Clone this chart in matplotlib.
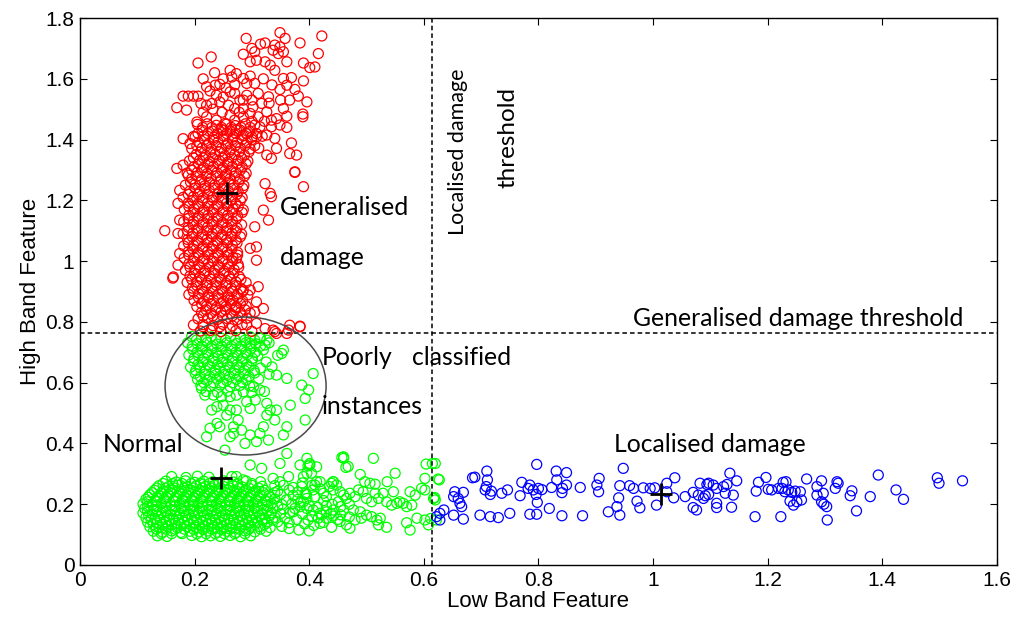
import matplotlib
matplotlib.use("Agg")
import matplotlib.pyplot as plt
from matplotlib.patches import Ellipse

# ---------------- data ----------------
red_points = [
    # sparse upper part
    (0.290,1.733),(0.349,1.752),(0.358,1.733),(0.422,1.741),(0.384,1.718),(0.416,1.683),
    (0.206,1.652),(0.229,1.672),(0.390,1.652),(0.401,1.637),(0.410,1.639),(0.323,1.718),
    (0.315,1.714),(0.300,1.700),(0.305,1.689),(0.285,1.681),(0.340,1.711),(0.349,1.705),
    (0.355,1.689),(0.346,1.683),(0.337,1.694),(0.297,1.656),(0.308,1.661),(0.323,1.656),
    (0.332,1.645),(0.340,1.628),(0.361,1.656),(0.262,1.628),(0.273,1.617),(0.285,1.601),
    (0.297,1.609),(0.305,1.585),(0.291,1.585),(0.265,1.606),
    (0.355,1.601),(0.369,1.604),(0.361,1.579),(0.390,1.593),(0.349,1.565),(0.375,1.565),
    (0.381,1.543),(0.396,1.524),(0.366,1.530),(0.355,1.502),(0.361,1.477),(0.389,1.484),
    (0.389,1.475),(0.349,1.448),(0.361,1.440),(0.343,1.469),(0.334,1.442),
    (0.221,1.574),(0.236,1.579),(0.244,1.582),(0.227,1.560),(0.238,1.546),
    (0.180,1.543),(0.189,1.543),(0.198,1.543),(0.206,1.543),(0.169,1.505),(0.186,1.497),
    (0.211,1.519),(0.221,1.513),(0.230,1.519),(0.244,1.524),
    (0.262,1.557),(0.270,1.552),(0.279,1.530),(0.291,1.546),(0.311,1.552),(0.329,1.541),
    (0.317,1.519),(0.302,1.508),(0.285,1.502),(0.270,1.502),(0.259,1.513),(0.297,1.486),
    (0.311,1.475),(0.326,1.491),(0.334,1.464),(0.314,1.442),
    (0.204,1.458),(0.221,1.475),(0.238,1.464),(0.253,1.453),(0.270,1.464),(0.285,1.475),
    (0.250,1.431),(0.273,1.431),(0.291,1.420),(0.308,1.409),(0.326,1.415),(0.340,1.404),
    (0.369,1.389),(0.366,1.354),(0.378,1.349),(0.334,1.338),(0.326,1.349),(0.343,1.371),
    (0.180,1.403),(0.192,1.387),(0.201,1.409),(0.169,1.305),(0.180,1.316),(0.189,1.283),
    (0.375,1.292),
    (0.215,1.490),(0.232,1.500),(0.248,1.490),(0.262,1.480),(0.278,1.490),(0.300,1.460),
    (0.322,1.460),(0.250,1.540),(0.285,1.530),(0.300,1.530),(0.215,1.600),(0.235,1.620),
    (0.250,1.600),(0.320,1.600),(0.335,1.580),(0.330,1.520),(0.350,1.530),(0.270,1.580),
    (0.255,1.570),
    # right / left outliers of the column
    (0.323,1.255),(0.332,1.223),(0.334,1.212),(0.320,1.168),(0.329,1.135),(0.305,1.113),
    (0.297,1.042),(0.308,1.047),(0.308,1.003),(0.273,1.009),(0.311,0.916),(0.285,0.905),
    (0.297,0.905),(0.308,0.866),(0.320,0.844),(0.305,0.833),(0.273,0.850),(0.262,0.872),
    (0.337,0.773),(0.366,0.789),(0.384,0.786),(0.361,0.762),(0.343,0.762),(0.390,1.245),
    (0.375,1.294),(0.163,0.948),(0.171,0.987),(0.174,1.025),(0.171,1.091),(0.174,1.135),
    (0.171,1.190),(0.174,1.233),(0.148,1.100),(0.162,0.944),
    # near the threshold line
    (0.198,0.790),(0.215,0.784),(0.230,0.778),(0.244,0.784),(0.262,0.778),(0.291,0.790),
    (0.308,0.795),(0.323,0.778),(0.340,0.768),(0.364,0.773),(0.384,0.784),
    # dense column
    (0.205,1.450),(0.222,1.452),(0.238,1.447),(0.256,1.451),(0.271,1.446),(0.289,1.452),(0.305,1.448),
    (0.213,1.431),(0.231,1.428),(0.247,1.433),(0.262,1.429),(0.279,1.432),(0.296,1.427),
    (0.198,1.410),(0.216,1.412),(0.234,1.407),(0.251,1.411),(0.268,1.409),(0.284,1.413),(0.300,1.408),(0.318,1.411),
    (0.207,1.391),(0.225,1.388),(0.241,1.392),(0.258,1.387),(0.274,1.391),(0.291,1.389),
    (0.195,1.370),(0.213,1.372),(0.229,1.368),(0.247,1.371),(0.263,1.367),(0.280,1.372),(0.297,1.369),(0.312,1.372),
    (0.203,1.351),(0.219,1.348),(0.236,1.352),(0.253,1.347),(0.270,1.351),(0.287,1.349),
    (0.191,1.330),(0.209,1.332),(0.226,1.328),(0.243,1.331),(0.259,1.327),(0.276,1.332),(0.293,1.329),
    (0.199,1.311),(0.216,1.308),(0.233,1.312),(0.250,1.307),(0.266,1.311),(0.283,1.309),
    (0.187,1.290),(0.205,1.292),(0.222,1.288),(0.239,1.291),(0.256,1.287),(0.272,1.292),(0.290,1.289),
    (0.195,1.271),(0.212,1.268),(0.229,1.272),(0.246,1.267),(0.262,1.271),(0.279,1.269),
    (0.184,1.250),(0.201,1.252),(0.218,1.248),(0.235,1.251),(0.252,1.247),(0.268,1.252),(0.286,1.249),
    (0.192,1.231),(0.209,1.228),(0.226,1.232),(0.243,1.227),(0.259,1.231),(0.276,1.229),
    (0.180,1.210),(0.198,1.212),(0.215,1.208),(0.232,1.211),(0.249,1.207),(0.265,1.212),(0.283,1.209),
    (0.189,1.191),(0.206,1.188),(0.223,1.192),(0.240,1.187),(0.256,1.191),(0.272,1.189),
    (0.182,1.170),(0.199,1.172),(0.216,1.168),(0.233,1.171),(0.250,1.167),(0.267,1.172),(0.285,1.169),
    (0.190,1.151),(0.207,1.148),(0.224,1.152),(0.241,1.147),(0.258,1.151),(0.275,1.149),
    (0.181,1.130),(0.198,1.132),(0.215,1.128),(0.232,1.131),(0.249,1.127),(0.266,1.132),
    (0.189,1.111),(0.206,1.108),(0.223,1.112),(0.240,1.107),(0.257,1.111),(0.274,1.109),
    (0.180,1.090),(0.197,1.092),(0.214,1.088),(0.231,1.091),(0.248,1.087),(0.265,1.092),(0.282,1.089),
    (0.188,1.071),(0.205,1.068),(0.222,1.072),(0.239,1.067),(0.256,1.071),(0.272,1.069),
    (0.181,1.050),(0.198,1.052),(0.215,1.048),(0.232,1.051),(0.249,1.047),(0.266,1.052),
    (0.189,1.031),(0.206,1.028),(0.223,1.032),(0.240,1.027),(0.257,1.031),(0.275,1.029),
    (0.182,1.010),(0.199,1.012),(0.216,1.008),(0.233,1.011),(0.250,1.007),(0.267,1.012),
    (0.190,0.991),(0.207,0.988),(0.224,0.992),(0.241,0.987),(0.258,0.991),(0.276,0.989),
    (0.184,0.970),(0.201,0.972),(0.218,0.968),(0.235,0.971),(0.252,0.967),(0.269,0.972),
    (0.192,0.951),(0.209,0.948),(0.226,0.952),(0.243,0.947),(0.260,0.951),(0.278,0.949),
    (0.187,0.930),(0.204,0.932),(0.221,0.928),(0.238,0.931),(0.255,0.927),(0.272,0.932),(0.290,0.929),
    (0.196,0.911),(0.213,0.908),(0.230,0.912),(0.247,0.907),(0.264,0.911),(0.281,0.909),
    (0.190,0.890),(0.207,0.892),(0.224,0.888),(0.241,0.891),(0.258,0.887),(0.275,0.892),(0.293,0.889),
    (0.199,0.871),(0.216,0.868),(0.233,0.872),(0.250,0.867),(0.267,0.871),(0.284,0.869),
    (0.204,0.850),(0.221,0.852),(0.238,0.848),(0.255,0.851),(0.272,0.847),(0.290,0.852),
    (0.212,0.831),(0.229,0.828),(0.246,0.832),(0.263,0.827),(0.280,0.831),(0.297,0.829),
    (0.206,0.810),(0.223,0.812),(0.240,0.808),(0.257,0.811),(0.274,0.807),(0.291,0.812),
    (0.215,0.791),(0.232,0.788),(0.249,0.792),(0.266,0.787),(0.283,0.791),
    (0.210,0.770),(0.228,0.772),(0.246,0.768),(0.272,0.771),(0.300,0.769),
]

# extra rows inside the densest part of the red column: (y, [x values])
red_fill_rows = [
    (1.44, [0.214,0.230,0.247,0.264,0.281,0.297]),
    (1.42, [0.206,0.223,0.240,0.256,0.272,0.290,0.308]),
    (1.40, [0.217,0.233,0.250,0.266,0.283,0.300]),
    (1.38, [0.204,0.221,0.238,0.255,0.271,0.288,0.305]),
    (1.36, [0.211,0.228,0.244,0.261,0.278,0.295]),
    (1.34, [0.198,0.215,0.232,0.249,0.265,0.282]),
    (1.32, [0.207,0.224,0.241,0.258,0.274,0.290]),
    (1.30, [0.195,0.213,0.230,0.247,0.263,0.280]),
    (1.28, [0.204,0.221,0.238,0.254,0.270,0.287]),
    (1.26, [0.193,0.210,0.226,0.243,0.260,0.277]),
    (1.24, [0.201,0.218,0.234,0.251,0.268,0.284]),
    (1.22, [0.189,0.206,0.223,0.240,0.257,0.274]),
    (1.20, [0.197,0.214,0.231,0.248,0.264,0.280]),
    (1.18, [0.190,0.207,0.224,0.241,0.258,0.276]),
    (1.16, [0.198,0.215,0.232,0.249,0.266,0.283]),
    (1.14, [0.189,0.206,0.223,0.240,0.257,0.273]),
    (1.12, [0.197,0.214,0.231,0.248,0.265,0.282]),
    (1.10, [0.188,0.205,0.222,0.239,0.256,0.272]),
    (1.08, [0.196,0.213,0.230,0.247,0.264,0.280]),
    (1.06, [0.189,0.206,0.223,0.240,0.257,0.274]),
    (1.04, [0.197,0.214,0.231,0.248,0.265]),
    (1.02, [0.190,0.207,0.224,0.241,0.258,0.275]),
    (1.00, [0.198,0.215,0.232,0.249,0.266]),
    (0.98, [0.192,0.209,0.226,0.243,0.260,0.277]),
    (0.96, [0.200,0.217,0.234,0.251,0.268]),
    (0.94, [0.195,0.212,0.229,0.246,0.263,0.281]),
    (0.92, [0.204,0.221,0.238,0.255,0.272]),
    (0.90, [0.198,0.215,0.232,0.249,0.266,0.284]),
    (0.88, [0.207,0.224,0.241,0.258,0.275]),
    (0.86, [0.212,0.229,0.246,0.263,0.280]),
    (0.84, [0.220,0.237,0.254,0.271,0.288]),
    (0.82, [0.215,0.232,0.249,0.266,0.283]),
]

green_points = [
    # poorly classified group, sparse part
    (0.407,0.630),(0.361,0.614),(0.387,0.592),(0.399,0.576),(0.393,0.548),(0.367,0.526),
    (0.393,0.477),(0.361,0.455),(0.355,0.428),(0.340,0.477),(0.326,0.493),(0.326,0.532),
    (0.332,0.510),(0.343,0.510),(0.320,0.455),(0.314,0.433),(0.329,0.411),(0.308,0.406),
    (0.297,0.428),(0.288,0.400),(0.282,0.444),(0.276,0.477),(0.268,0.455),(0.268,0.433),
    (0.262,0.422),(0.253,0.378),(0.244,0.455),(0.239,0.466),(0.227,0.450),(0.221,0.422),
    (0.230,0.510),(0.239,0.521),(0.250,0.526),(0.262,0.510),(0.273,0.510),(0.256,0.493),
    (0.297,0.515),(0.291,0.537),(0.306,0.543),(0.314,0.576),(0.303,0.587),(0.285,0.570),
    (0.273,0.559),(0.262,0.554),(0.247,0.554),(0.233,0.559),(0.218,0.559),(0.212,0.581),
    (0.343,0.625),(0.335,0.652),(0.352,0.696),(0.355,0.707),(0.326,0.740),(0.323,0.724),
    (0.314,0.746),(0.297,0.729),(0.460,0.356),
    # poorly classified group, dense part
    (0.195,0.752),(0.212,0.748),(0.229,0.751),(0.246,0.747),(0.263,0.752),(0.280,0.749),(0.297,0.751),(0.315,0.748),
    (0.188,0.731),(0.205,0.728),(0.222,0.732),(0.239,0.727),(0.256,0.731),(0.273,0.729),(0.290,0.732),(0.307,0.728),(0.330,0.731),
    (0.196,0.711),(0.213,0.708),(0.230,0.712),(0.247,0.707),(0.264,0.711),(0.281,0.709),(0.298,0.712),(0.320,0.708),
    (0.190,0.691),(0.207,0.688),(0.224,0.692),(0.241,0.687),(0.258,0.691),(0.275,0.689),(0.292,0.692),(0.310,0.688),(0.345,0.690),
    (0.198,0.671),(0.215,0.668),(0.232,0.672),(0.249,0.667),(0.266,0.671),(0.283,0.669),(0.300,0.672),(0.325,0.668),
    (0.193,0.651),(0.210,0.648),(0.227,0.652),(0.244,0.647),(0.261,0.651),(0.278,0.649),(0.295,0.652),(0.315,0.648),
    (0.201,0.631),(0.218,0.628),(0.235,0.632),(0.252,0.627),(0.269,0.631),(0.286,0.629),(0.305,0.632),(0.330,0.628),
    (0.205,0.611),(0.222,0.608),(0.239,0.612),(0.256,0.607),(0.273,0.611),(0.290,0.609),(0.312,0.612),
    (0.211,0.591),(0.228,0.588),(0.245,0.592),(0.262,0.587),(0.279,0.591),(0.296,0.589),
    (0.220,0.571),(0.240,0.568),(0.258,0.572),(0.300,0.568),(0.322,0.571),
    # normal group, spread above the core
    (0.297,0.329),(0.317,0.318),(0.349,0.334),(0.361,0.367),(0.384,0.329),(0.401,0.329),
    (0.396,0.302),(0.419,0.274),(0.442,0.274),(0.460,0.351),(0.468,0.324),(0.273,0.291),
    (0.285,0.280),(0.337,0.285),(0.349,0.274),(0.364,0.291),
    # normal group, tail to the right
    (0.457,0.354),(0.512,0.351),(0.464,0.321),(0.396,0.351),(0.401,0.334),(0.398,0.326),
    (0.413,0.323),(0.404,0.302),(0.550,0.302),(0.489,0.298),(0.604,0.332),(0.620,0.334),
    (0.627,0.280),(0.602,0.285),(0.536,0.274),(0.497,0.274),(0.506,0.269),(0.515,0.266),
    (0.442,0.274),(0.439,0.269),(0.448,0.263),(0.413,0.274),(0.410,0.263),(0.407,0.247),
    (0.390,0.291),(0.387,0.258),(0.393,0.236),(0.396,0.219),(0.390,0.208),
    (0.547,0.241),(0.576,0.241),(0.585,0.230),(0.596,0.252),(0.602,0.247),(0.617,0.219),
    (0.620,0.214),(0.615,0.334),(0.625,0.283),(0.619,0.222),(0.612,0.153),
    (0.425,0.236),(0.430,0.225),(0.442,0.247),(0.454,0.241),(0.460,0.230),(0.465,0.219),
    (0.451,0.208),(0.471,0.236),(0.480,0.225),(0.486,0.247),(0.494,0.241),(0.500,0.219),
    (0.509,0.208),(0.515,0.236),(0.521,0.219),(0.529,0.236),(0.535,0.208),(0.544,0.197),
    (0.553,0.203),(0.558,0.208),(0.570,0.192),(0.564,0.203),(0.579,0.197),
    (0.384,0.192),(0.396,0.186),(0.407,0.181),(0.419,0.170),(0.430,0.175),(0.442,0.181),
    (0.460,0.181),(0.477,0.181),(0.489,0.175),(0.500,0.164),(0.509,0.159),(0.518,0.148),
    (0.524,0.154),(0.491,0.154),(0.480,0.148),(0.454,0.143),(0.442,0.161),(0.430,0.154),
    (0.416,0.154),(0.398,0.148),(0.419,0.137),(0.465,0.132),(0.471,0.121),(0.439,0.124),
    (0.521,0.132),(0.535,0.124),(0.570,0.139),(0.576,0.115),(0.588,0.154),(0.602,0.148),
    (0.608,0.132),(0.622,0.148),
    (0.355,0.262),(0.372,0.255),(0.388,0.270),(0.405,0.262),(0.420,0.250),(0.435,0.258),
    (0.380,0.240),(0.395,0.232),(0.410,0.225),(0.425,0.212),(0.440,0.200),(0.455,0.192),
    (0.470,0.200),(0.385,0.205),(0.400,0.195),(0.415,0.190),(0.430,0.195),(0.372,0.175),
    (0.388,0.168),(0.405,0.160),(0.422,0.165),(0.438,0.170),(0.455,0.165),(0.470,0.158),
    (0.378,0.150),(0.392,0.135),(0.408,0.130),(0.425,0.140),(0.450,0.150),(0.365,0.120),
    (0.382,0.115),(0.400,0.112),
    # normal group, dense core
    (0.160,0.291),(0.185,0.288),(0.205,0.292),(0.225,0.289),(0.265,0.291),
    (0.150,0.276),(0.168,0.273),(0.184,0.277),(0.200,0.272),(0.216,0.276),(0.232,0.274),(0.250,0.277),(0.268,0.273),(0.290,0.276),(0.315,0.274),
    (0.138,0.261),(0.155,0.258),(0.171,0.262),(0.187,0.257),(0.203,0.261),(0.219,0.259),(0.235,0.262),(0.251,0.258),(0.267,0.261),(0.283,0.257),(0.300,0.262),(0.318,0.259),(0.340,0.261),
    (0.130,0.246),(0.146,0.243),(0.162,0.247),(0.178,0.242),(0.194,0.246),(0.210,0.244),(0.226,0.247),(0.242,0.243),(0.258,0.246),(0.274,0.242),(0.290,0.247),(0.306,0.244),(0.322,0.246),(0.345,0.243),(0.365,0.247),
    (0.122,0.231),(0.138,0.228),(0.154,0.232),(0.170,0.227),(0.186,0.231),(0.202,0.229),(0.218,0.232),(0.234,0.228),(0.250,0.231),(0.266,0.227),(0.282,0.232),(0.298,0.229),(0.314,0.231),(0.330,0.228),(0.350,0.232),(0.372,0.229),
    (0.115,0.216),(0.131,0.213),(0.147,0.217),(0.163,0.212),(0.179,0.216),(0.195,0.214),(0.211,0.217),(0.227,0.213),(0.243,0.216),(0.259,0.212),(0.275,0.217),(0.291,0.214),(0.307,0.216),(0.323,0.213),(0.340,0.217),(0.360,0.214),(0.380,0.216),
    (0.110,0.201),(0.126,0.198),(0.142,0.202),(0.158,0.197),(0.174,0.201),(0.190,0.199),(0.206,0.202),(0.222,0.198),(0.238,0.201),(0.254,0.197),(0.270,0.202),(0.286,0.199),(0.302,0.201),(0.318,0.198),(0.334,0.202),(0.352,0.199),(0.370,0.201),
    (0.113,0.186),(0.129,0.183),(0.145,0.187),(0.161,0.182),(0.177,0.186),(0.193,0.184),(0.209,0.187),(0.225,0.183),(0.241,0.186),(0.257,0.182),(0.273,0.187),(0.289,0.184),(0.305,0.186),(0.321,0.183),(0.337,0.187),(0.355,0.184),(0.375,0.186),
    (0.110,0.171),(0.126,0.168),(0.142,0.172),(0.158,0.167),(0.174,0.171),(0.190,0.169),(0.206,0.172),(0.222,0.168),(0.238,0.171),(0.254,0.167),(0.270,0.172),(0.286,0.169),(0.302,0.171),(0.318,0.168),(0.334,0.172),(0.350,0.169),(0.366,0.171),
    (0.115,0.156),(0.131,0.153),(0.147,0.157),(0.163,0.152),(0.179,0.156),(0.195,0.154),(0.211,0.157),(0.227,0.153),(0.243,0.156),(0.259,0.152),(0.275,0.157),(0.291,0.154),(0.307,0.156),(0.323,0.153),(0.340,0.157),(0.358,0.154),
    (0.118,0.141),(0.134,0.138),(0.150,0.142),(0.166,0.137),(0.182,0.141),(0.198,0.139),(0.214,0.142),(0.230,0.138),(0.246,0.141),(0.262,0.137),(0.278,0.142),(0.294,0.139),(0.310,0.141),(0.326,0.138),(0.345,0.142),(0.365,0.139),
    (0.122,0.126),(0.138,0.123),(0.154,0.127),(0.170,0.122),(0.186,0.126),(0.202,0.124),(0.218,0.127),(0.234,0.123),(0.250,0.126),(0.266,0.122),(0.282,0.127),(0.298,0.124),(0.314,0.126),(0.332,0.123),(0.352,0.127),
    (0.128,0.111),(0.144,0.108),(0.160,0.112),(0.176,0.107),(0.192,0.111),(0.208,0.109),(0.224,0.112),(0.240,0.108),(0.256,0.111),(0.272,0.107),(0.288,0.112),(0.305,0.109),(0.325,0.111),
    (0.135,0.096),(0.152,0.094),(0.195,0.097),(0.212,0.093),(0.228,0.096),(0.245,0.094),(0.262,0.097),(0.280,0.093),(0.298,0.096),
]

# extra rows inside the dense green areas: (y, [x values])
green_fill_rows = [
    (0.740, [0.203,0.220,0.237,0.254,0.271,0.288,0.305]),
    (0.720, [0.196,0.213,0.230,0.247,0.264,0.281,0.298,0.315]),
    (0.700, [0.204,0.221,0.238,0.255,0.272,0.289,0.306]),
    (0.680, [0.199,0.216,0.233,0.250,0.267,0.284,0.301]),
    (0.660, [0.206,0.223,0.240,0.257,0.274,0.291]),
    (0.640, [0.202,0.219,0.236,0.253,0.270,0.287,0.304]),
    (0.620, [0.210,0.227,0.244,0.261,0.278,0.295]),
    (0.600, [0.216,0.233,0.250,0.267,0.284]),
    (0.268, [0.145,0.162,0.178,0.194,0.210,0.226,0.242,0.258,0.275,0.300]),
    (0.253, [0.134,0.150,0.166,0.182,0.198,0.214,0.230,0.246,0.262,0.278,0.295,0.312]),
    (0.238, [0.126,0.142,0.158,0.174,0.190,0.206,0.222,0.238,0.254,0.270,0.286,0.302,0.320,0.340]),
    (0.223, [0.119,0.135,0.151,0.167,0.183,0.199,0.215,0.231,0.247,0.263,0.279,0.295,0.312,0.332]),
    (0.208, [0.118,0.134,0.150,0.166,0.182,0.198,0.214,0.230,0.246,0.262,0.278,0.294,0.310,0.327]),
    (0.193, [0.118,0.134,0.150,0.166,0.182,0.198,0.214,0.230,0.246,0.262,0.278,0.294,0.310,0.327,0.345]),
    (0.178, [0.118,0.134,0.150,0.166,0.182,0.198,0.214,0.230,0.246,0.262,0.278,0.294,0.310,0.327]),
    (0.163, [0.120,0.136,0.152,0.168,0.184,0.200,0.216,0.232,0.248,0.264,0.280,0.296,0.313,0.330]),
    (0.148, [0.124,0.140,0.156,0.172,0.188,0.204,0.220,0.236,0.252,0.268,0.284,0.300,0.318,0.336]),
    (0.133, [0.128,0.144,0.160,0.176,0.192,0.208,0.224,0.240,0.256,0.272,0.288,0.305,0.322]),
    (0.118, [0.133,0.150,0.166,0.182,0.198,0.214,0.230,0.246,0.262,0.278,0.295,0.315]),
    (0.103, [0.142,0.160,0.178,0.204,0.220,0.236,0.252,0.270,0.288]),
]

blue_points = [
    (0.797,0.331),(0.710,0.309),(0.689,0.289),(0.685,0.287),(0.711,0.280),(0.831,0.309),
    (0.849,0.304),(0.906,0.285),(0.948,0.318),(1.038,0.287),(1.024,0.269),(1.082,0.269),
    (1.097,0.269),(0.771,0.272),(0.785,0.263),(0.709,0.258),(0.707,0.247),(0.718,0.243),
    (0.716,0.232),(0.746,0.247),(0.736,0.236),(0.768,0.228),(0.782,0.252),(0.791,0.247),
    (0.800,0.252),(0.806,0.248),(0.796,0.232),(0.823,0.255),(0.832,0.280),(0.842,0.252),
    (0.849,0.263),(0.841,0.238),(0.873,0.255),(0.902,0.263),(0.905,0.241),(0.942,0.261),
    (0.959,0.261),(0.966,0.252),(0.983,0.254),(0.995,0.252),(1.003,0.254),(1.024,0.241),
    (1.036,0.221),(1.056,0.225),(1.070,0.239),(1.079,0.230),(1.091,0.228),(1.097,0.232),
    (0.654,0.241),(0.669,0.239),(0.652,0.225),(0.660,0.219),(0.663,0.203),(0.666,0.192),
    (0.635,0.181),(0.628,0.170),(0.622,0.159),(0.628,0.148),(0.652,0.164),(0.669,0.151),
    (0.698,0.164),(0.716,0.159),(0.730,0.156),(0.750,0.170),(0.785,0.167),(0.797,0.167),
    (0.798,0.206),(0.819,0.186),(0.841,0.162),(0.877,0.162),(0.922,0.175),(0.937,0.192),
    (0.940,0.221),(0.942,0.164),(0.972,0.210),(0.977,0.188),(1.006,0.197),(1.070,0.189),
    (1.076,0.181),
    (1.134,0.302),(1.146,0.277),(1.094,0.265),(1.105,0.263),(1.111,0.252),(1.123,0.258),
    (1.129,0.265),(1.126,0.236),(1.140,0.230),(1.088,0.219),(1.111,0.203),(1.111,0.189),
    (1.137,0.190),(1.184,0.272),(1.197,0.288),(1.180,0.243),(1.201,0.249),(1.207,0.247),
    (1.219,0.252),(1.227,0.272),(1.232,0.274),(1.225,0.252),(1.230,0.241),(1.236,0.247),
    (1.242,0.239),(1.248,0.243),(1.257,0.241),(1.259,0.214),(1.239,0.210),(1.245,0.197),
    (1.251,0.208),(1.268,0.283),(1.286,0.258),(1.294,0.277),(1.286,0.230),(1.297,0.236),
    (1.294,0.208),(1.298,0.200),(1.303,0.192),(1.321,0.274),(1.323,0.269),(1.318,0.252),
    (1.347,0.244),(1.344,0.228),(1.355,0.178),(1.379,0.225),(1.393,0.296),(1.424,0.247),
    (1.437,0.216),(1.496,0.287),(1.499,0.269),(1.540,0.277),(1.178,0.159),(1.223,0.159),
    (1.304,0.148),
]

centroid_x = [0.256, 0.246, 1.014]
centroid_y = [1.224, 0.286, 0.234]

localised_threshold = 0.614
generalised_threshold = 0.763

x_ticks = [0, 0.2, 0.4, 0.6, 0.8, 1.0, 1.2, 1.4, 1.6]
x_tick_labels = ["0", "0.2", "0.4", "0.6", "0.8", "1", "1.2", "1.4", "1.6"]
y_ticks = [0, 0.2, 0.4, 0.6, 0.8, 1.0, 1.2, 1.4, 1.6, 1.8]
y_tick_labels = ["0", "0.2", "0.4", "0.6", "0.8", "1", "1.2", "1.4", "1.6", "1.8"]


def with_rows(points, rows):
    xs = [p[0] for p in points]
    ys = [p[1] for p in points]
    for y, row in rows:
        xs.extend(row)
        ys.extend([y] * len(row))
    return xs, ys


# ---------------- figure ----------------
fig = plt.figure(figsize=(10.16, 6.18), dpi=100)
ax = fig.add_axes([0.0787, 0.0858, 0.9025, 0.885])

axis_font = ["Liberation Sans", "DejaVu Sans"]
note_font = ["Lato", "DejaVu Sans"]

circle = dict(s=52, facecolors="none", linewidths=0.9, zorder=2)
gx, gy = with_rows(green_points, green_fill_rows)
ax.scatter(gx, gy, edgecolors=(0, 1, 0), **circle)
rx, ry = with_rows(red_points, red_fill_rows)
ax.scatter(rx, ry, edgecolors=(1, 0, 0), **circle)
bx, by = with_rows(blue_points, [])
ax.scatter(bx, by, edgecolors=(0, 0, 1), **circle)

ax.plot(centroid_x, centroid_y, linestyle="none", marker="+", markersize=16,
        markeredgewidth=2, color="black", zorder=4)

ax.axvline(localised_threshold, color="black", linestyle=(0, (3, 2)), linewidth=1.1, zorder=3)
ax.axhline(generalised_threshold, color="black", linestyle=(0, (3, 2)), linewidth=1.1, zorder=3)

ax.add_patch(Ellipse((0.289, 0.589), 0.281, 0.454, fill=False,
                     edgecolor="#4a4a4a", linewidth=1.1, zorder=3))

ax.set_xlim(0, 1.6)
ax.set_ylim(0, 1.8)
ax.set_xticks(x_ticks)
ax.set_xticklabels(x_tick_labels, fontfamily=axis_font, fontsize=15)
ax.set_yticks(y_ticks)
ax.set_yticklabels(y_tick_labels, fontfamily=axis_font, fontsize=15)
ax.tick_params(direction="in", length=5, width=0.8, top=True, right=True, pad=4)
for sp in ax.spines.values():
    sp.set_linewidth(1.0)

ax.set_xlabel("Low Band Feature", fontfamily=axis_font, fontsize=16, labelpad=1)
ax.set_ylabel("High Band Feature", fontfamily=axis_font, fontsize=16, labelpad=3)

fs = 17.8
ax.text(0.349, 1.178, "Generalised", fontfamily=note_font, fontsize=fs, va="center", ha="left")
ax.text(0.349, 1.013, "damage", fontfamily=note_font, fontsize=fs, va="center", ha="left")
ax.text(0.660, 1.359, "Localised damage", fontfamily=note_font, fontsize=15.5,
        va="center", ha="center", rotation=90)
ax.text(0.747, 1.408, "threshold", fontfamily=note_font, fontsize=17.5,
        va="center", ha="center", rotation=90)
ax.text(0.965, 0.812, "Generalised damage threshold", fontfamily=note_font, fontsize=fs,
        va="center", ha="left")
ax.text(0.422, 0.684, "Poorly", fontfamily=note_font, fontsize=fs, va="center", ha="left")
ax.text(0.579, 0.684, "classified", fontfamily=note_font, fontsize=fs, va="center", ha="left")
ax.text(0.422, 0.520, "instances", fontfamily=note_font, fontsize=fs, va="center", ha="left")
ax.text(0.040, 0.395, "Normal", fontfamily=note_font, fontsize=fs, va="center", ha="left")
ax.text(0.932, 0.395, "Localised damage", fontfamily=note_font, fontsize=fs, va="center", ha="left")

fig.savefig("out.png", dpi=100)
